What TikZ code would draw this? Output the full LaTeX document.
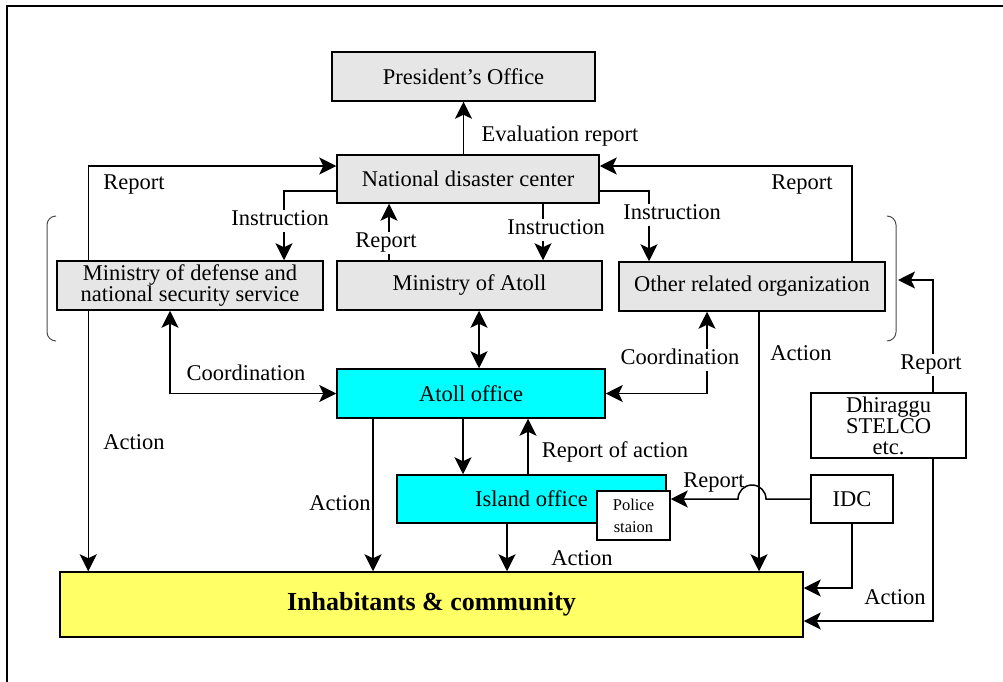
\documentclass[tikz,border=0pt]{standalone}
\usepackage{fontspec}
\setmainfont{Liberation Serif}
\newfontfamily\tnr{Liberation Serif}
\usetikzlibrary{arrows.meta,calc}
\definecolor{boxgrey}{HTML}{E6E6E6}
\definecolor{boxcyan}{HTML}{00FFFF}
\definecolor{boxyellow}{HTML}{FFFF66}
\tikzset{
  tip/.tip={Stealth[length=17pt, width=17pt, inset=4pt]},
  base/.style={draw, line width=1.5pt, inner sep=0pt, align=center,
    font=\tnr\fontsize{22.5}{19.5}\selectfont},
  greybox/.style={base, fill=boxgrey},
  cyanbox/.style={base, fill=boxcyan},
  whitebox/.style={base, fill=white},
  yellowbox/.style={base, fill=boxyellow, font=\tnr\fontsize{26}{26}\selectfont\bfseries},
  conn/.style={line width=1.5pt},
  arr/.style={conn, -tip},
  dbl/.style={conn, tip-tip},
  lbl/.style={inner sep=1pt, font=\tnr\fontsize{22.5}{22.5}\selectfont,
    text height=15pt, text depth=5pt, yshift=-2.5pt},
  wlbl/.style={lbl, fill=white},
  bracket/.style={draw=black!70, line width=1pt, rounded corners=9pt},
}
\begin{document}
\begin{tikzpicture}[x=1pt, y=-1pt]
\useasboundingbox (0,0) rectangle (1003,682);
% outer frame
\draw[line width=1.5pt] (1003,6) -- (7,6) -- (7,682);

% boxes
\node[greybox, minimum width=263pt, minimum height=49pt] (pres) at (463.5,76.5) {President’s Office};
\node[greybox, minimum width=262pt, minimum height=48pt] (ndc) at (468,179) {National disaster center};
\node[greybox, minimum width=266pt, minimum height=49pt] (mod) at (190,285.5) {Ministry of defense and\\national security service};
\node[greybox, minimum width=265pt, minimum height=49pt] (moa) at (469.5,285.5) {Ministry of Atoll};
\node[greybox, minimum width=266pt, minimum height=49pt] (other) at (752,286.5) {Other related organization};
\node[cyanbox, minimum width=268pt, minimum height=49pt] (atoll) at (471,393.5) {Atoll office};
\node[cyanbox, minimum width=269pt, minimum height=48pt] (island) at (531.5,499) {Island office};
\node[whitebox, minimum width=73pt, minimum height=49pt, font=\tnr\fontsize{16.5}{22}\selectfont] (police) at (633.5,515.5) {Police\\staion};
\node[yellowbox, minimum width=743pt, minimum height=65pt] (inh) at (431.5,604.5) {Inhabitants \& community};
\node[whitebox, minimum width=155pt, minimum height=65pt, font=\tnr\fontsize{22.5}{21}\selectfont] (dhi) at (888.5,425.5) {Dhiraggu\\STELCO\\etc.};
\node[whitebox, minimum width=82pt, minimum height=48pt] (idc) at (852,499) {IDC};

% brackets around the ministries row
\draw[bracket] (56,216) -| (47,341) -- (56,341);
\draw[bracket] (887,216) -| (896,341) -- (887,341);
\coordinate (rbr) at (898,280);

% connectors
\draw[arr] (pres.south |- ndc.north) -- (pres.south);
\draw[arr] ([xshift=32pt]mod.north west) |- ([yshift=13pt]ndc.west);
\draw[arr] ([yshift=-12pt]ndc.west) -| ([xshift=94pt]mod.north);
\draw[arr] ([xshift=-80.5pt]moa.north) -- ([xshift=-80.5pt]moa.north |- ndc.south);
\draw[arr] ([xshift=75pt]ndc.south) -- ([xshift=75pt]ndc.south |- moa.north);
\draw[arr] ([yshift=-12pt]ndc.east) -| ([xshift=-103pt]other.north);
\draw[arr] ([xshift=100pt]other.north) |- ([yshift=13pt]ndc.east);
\draw[dbl] ([xshift=9.5pt]moa.south) -- ([xshift=9.5pt]moa.south |- atoll.north);
\draw[dbl] ([xshift=-20pt]mod.south) |- (atoll.west);
\draw[dbl] ([xshift=-45pt]other.south) |- (atoll.east);
\draw[arr] ([xshift=32pt]mod.south west) -- ([xshift=32pt]mod.south west |- inh.north);
\draw[arr] ([xshift=-8pt]atoll.south) -- ([xshift=-8pt]atoll.south |- island.north);
\draw[arr] ([xshift=57pt]atoll.south |- island.north) -- ([xshift=57pt]atoll.south);
\draw[arr] ([xshift=-98pt]atoll.south) -- ([xshift=-98pt]atoll.south |- inh.north);
\draw[arr] ([xshift=-24.5pt]island.south) -- ([xshift=-24.5pt]island.south |- inh.north);
\draw[arr] ([xshift=7pt]other.south) -- ([xshift=7pt]other.south |- inh.north);
\draw[arr] (idc.west) -- ([xshift=14pt]idc.west -| other.south) arc[start angle=0, end angle=180, radius=14pt] -- (idc.west -| police.east);
\draw[arr] (idc.south) |- ([yshift=16.5pt]inh.east);
\draw[arr] ([xshift=44.5pt]dhi.south) |- ([yshift=-16.5pt]inh.east);
\draw[arr] ([xshift=44.5pt]dhi.north) |- (rbr);

% connector labels
\node[lbl] (lEval) at (560,134) {Evaluation report};
\node[lbl] (lRepL) at (134,182) {Report};
\node[wlbl] (lInsL) at (280,218) {Instruction};
\node[wlbl] (lRepM) at (386,240) {Report};
\node[wlbl] (lInsM) at (556,227) {Instruction};
\node[wlbl] (lInsR) at (672,212) {Instruction};
\node[lbl] (lRepR) at (802,182) {Report};
\node[lbl] (lCoL) at (246,373) {Coordination};
\node[wlbl] (lCoR) at (680,357) {Coordination};
\node[lbl] (lActL) at (134,442) {Action};
\node[lbl] (lActA) at (340,503) {Action};
\node[lbl] (lRoA) at (615,450) {Report of action};
\node[lbl] (lActI) at (582,558) {Action};
\node[lbl] (lActO) at (801,353) {Action};
\node[lbl] (lRepI) at (714,480) {Report};
\node[lbl] (lActD) at (895,597) {Action};
\node[wlbl] (lRepD) at (931,362) {Report};
\end{tikzpicture}
\end{document}
